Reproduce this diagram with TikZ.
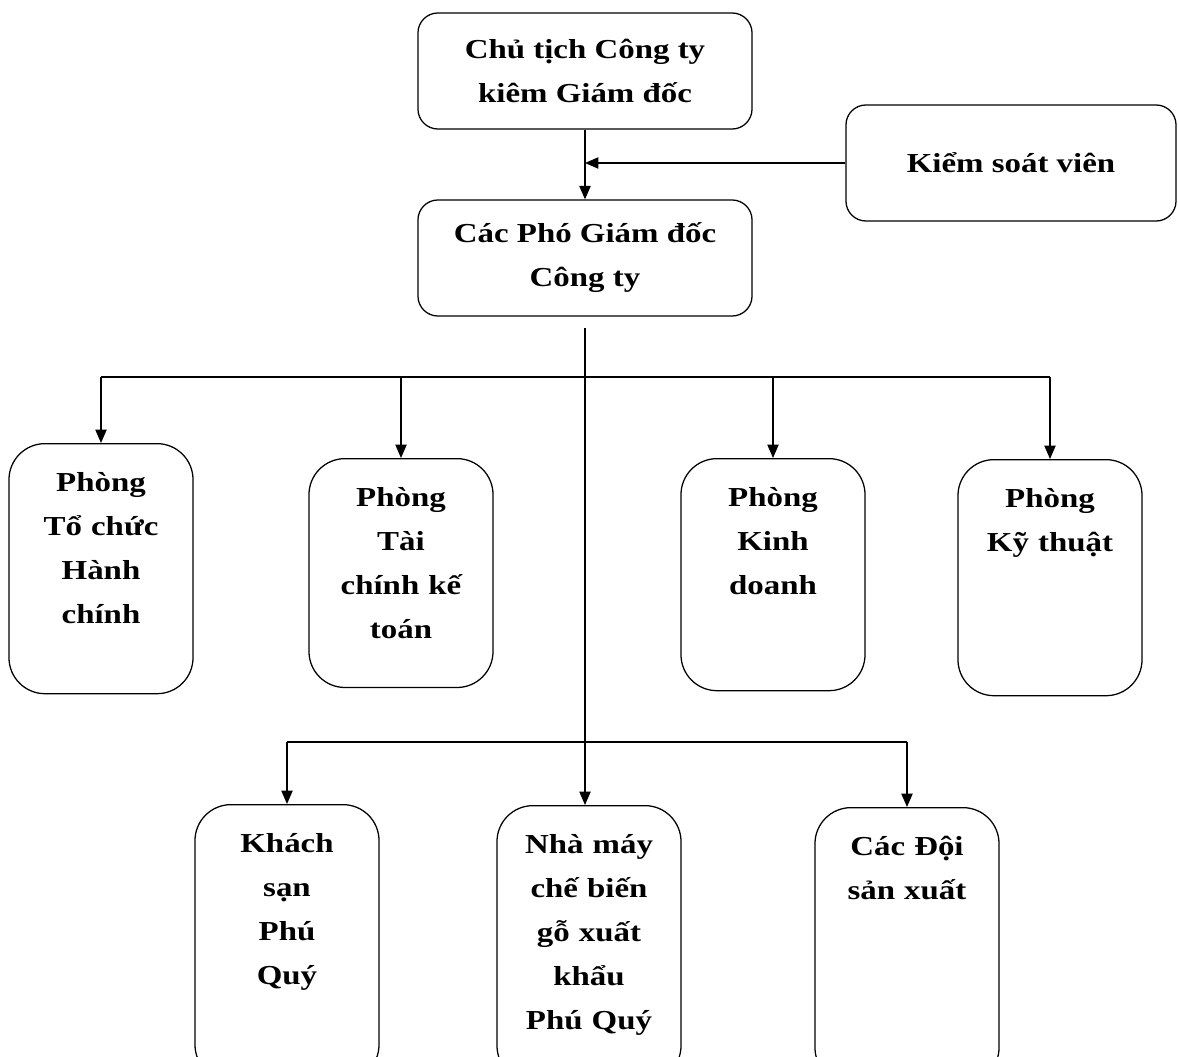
\documentclass[tikz,border=0pt]{standalone}
\usepackage{fontspec}
\setmainfont{Liberation Serif}[FakeStretch=1.2]
\usetikzlibrary{arrows.meta}

\tikzset{
  every node/.style={font=\fontsize{19.5}{31.3}\selectfont\bfseries},
  head/.style={draw, line width=0.9pt, rounded corners=0.5cm, minimum width=8.35cm, minimum height=2.9cm, align=center},
  unit/.style={draw, line width=0.9pt, rounded corners=0.9cm, anchor=north, inner sep=0pt, text width=4.6cm, align=center, text height=1.2cm, text depth=#1},
  link/.style={->, line width=0.9pt}
}

\begin{document}
\begin{tikzpicture}[x=0.025cm, y=-0.025cm, >={Triangle[length=9.5pt,width=8pt]}]
            \useasboundingbox (0,0) rectangle (1178,1057);
            \clip (0,0) rectangle (1178,1057);

            % Chairman and director
            \node[head] (chair) at (585,71) {Chủ tịch Công ty\\kiêm Giám đốc};

            % Controller
            \node[head, minimum width=8.25cm] (audit) at (1011,163) {Kiểm soát viên};

            % Deputy directors
            \node[head] (deputy) at (585,258) {Các Phó Giám đốc\\Công ty};

            % Departments
            \node[unit=5.05cm] (admin) at (101,443) {Phòng\\Tổ chức\\Hành\\chính};
            \node[unit=4.52cm] (finance) at (401,458) {Phòng\\Tài\\chính kế\\toán};
            \node[unit=4.6cm] (sales) at (773,458) {Phòng\\Kinh\\doanh};
            \node[unit=4.7cm] (tech) at (1050,459) {Phòng\\Kỹ thuật};

            % Units
            \node[unit=5.7cm] (hotel) at (287,804) {Khách\\sạn\\Phú\\Quý};
            \node[unit=5.7cm] (factory) at (589,805) {Nhà máy\\chế biến\\gỗ xuất\\khẩu\\Phú Quý};
            \node[unit=5.7cm] (teams) at (907,807) {Các Đội\\sản xuất};

            % Bus lines
            \coordinate (bus1) at (585,377);
            \coordinate (bus2) at (585,742);

            % Arrows
            \draw[link] (chair) -- (deputy);
            \draw[link] (audit.west) -- (audit.west -| chair.south);
            \draw[link] ([yshift=-0.28cm]deputy.south) -- (deputy.south |- factory.north);
            \draw[line width=0.9pt] (admin.north |- bus1) -- (tech.north |- bus1);
            \draw[link] (admin.north |- bus1) -- (admin.north);
            \draw[link] (finance.north |- bus1) -- (finance.north);
            \draw[link] (sales.north |- bus1) -- (sales.north);
            \draw[link] (tech.north |- bus1) -- (tech.north);
            \draw[line width=0.9pt] (hotel.north |- bus2) -- (teams.north |- bus2);
            \draw[link] (hotel.north |- bus2) -- (hotel.north);
            \draw[link] (teams.north |- bus2) -- (teams.north);
\end{tikzpicture}
\end{document}
